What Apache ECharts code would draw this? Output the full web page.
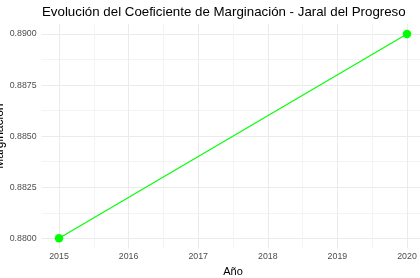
<!DOCTYPE html>
<html>
<head>
<meta charset="utf-8">
<script src="https://cdn.jsdelivr.net/npm/echarts@6/dist/echarts.min.js"></script>
<style>html,body{margin:0;padding:0;background:#fff}#c{width:420px;height:278px}</style>
</head>
<body>
<div id="c"></div>
<script>
const years = [2015, 2020];
const marginacion = [0.88, 0.89];
const xTickLabels = ['2015', '2016', '2017', '2018', '2019', '2020'];
const yTickLabels = ['0.8800', '0.8825', '0.8850', '0.8875', '0.8900'];
const titleText = 'Evolución del Coeficiente de Marginación - Jaral del Progreso';

const FONT = '"Liberation Sans", Arial, sans-serif';
const MAJOR = '#ebebeb', MINOR = '#f4f4f4', NONE = 'rgba(0,0,0,0)';

const chart = echarts.init(document.getElementById('c'), null, {renderer: 'canvas'});
chart.setOption({
  animation: false,
  backgroundColor: '#ffffff',
  graphic: [{
    type: 'text', x: 42, y: 12, silent: true,
    style: {text: titleText, fontFamily: FONT, fontSize: 13.3, fill: '#000',
            textAlign: 'left', textVerticalAlign: 'middle'}
  }],
  grid: {left: 41.6, top: 23.8, width: 382.8, height: 224.7, containLabel: false, outerBoundsMode: 'none'},
  xAxis: {
    type: 'value', min: 2014.75, max: 2020.25, interval: 0.25,
    name: 'Año', nameLocation: 'middle', nameGap: 18, nameMoveOverlap: false,
    nameTextStyle: {fontFamily: FONT, fontSize: 11, color: '#000'},
    axisLine: {show: false}, axisTick: {show: false},
    axisLabel: {
      fontFamily: FONT, fontSize: 8.8, color: '#4d4d4d', margin: 4,
      formatter: v => {
        const r = Math.round(v);
        return Math.abs(v - r) < 1e-6 && xTickLabels.includes(String(r)) ? String(r) : '';
      }
    },
    splitLine: {show: true, lineStyle: {width: 1, color: [NONE, MAJOR, NONE, MINOR]}}
  },
  yAxis: {
    type: 'value', min: 0.8795, max: 0.8905, interval: 0.00025,
    name: 'Marginación', nameLocation: 'middle', nameGap: 36, nameRotate: 90, nameMoveOverlap: false,
    nameTextStyle: {fontFamily: FONT, fontSize: 12, color: '#000'},
    axisLine: {show: false}, axisTick: {show: false},
    axisLabel: {
      fontFamily: FONT, fontSize: 8.8, color: '#4d4d4d', margin: 5,
      formatter: v => {
        const s = v.toFixed(4);
        return yTickLabels.includes(s) && Math.abs(v - Number(s)) < 1e-7 ? s : '';
      }
    },
    splitLine: {show: true, lineStyle: {width: 1, color: [NONE, NONE, MAJOR, NONE, NONE, NONE, NONE, MINOR, NONE, NONE]}}
  },
  series: [{
    type: 'line',
    data: years.map((y, i) => [y, marginacion[i]]),
    lineStyle: {color: '#00ff00', width: 1.1},
    itemStyle: {color: '#00ff00'},
    symbol: 'circle', symbolSize: 8.5,
    showSymbol: true
  }]
});
</script>
</body>
</html>
